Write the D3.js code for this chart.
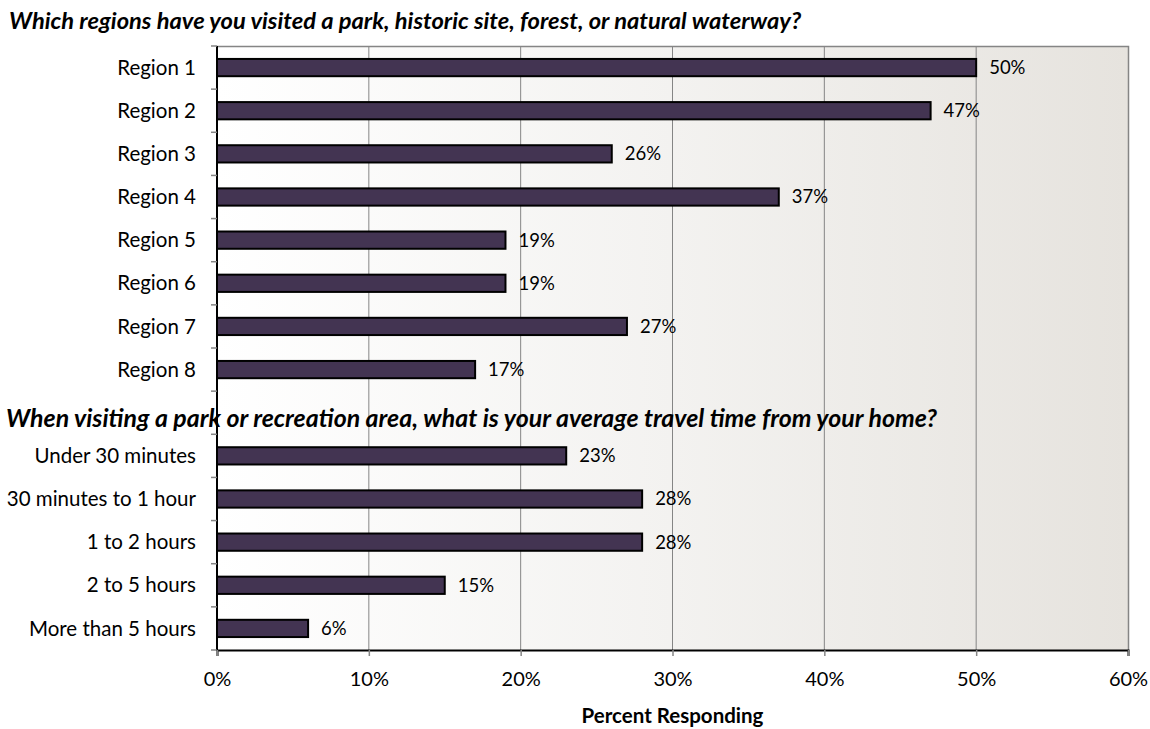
<!DOCTYPE html>
<html>
<head>
<meta charset="utf-8">
<script src="https://cdn.jsdelivr.net/npm/d3@7"></script>
<style>
  html, body { margin: 0; padding: 0; background: #ffffff; }
  svg { display: block; }
  text { font-family: Lato, "Open Sans", sans-serif; fill: #000; }
</style>
</head>
<body>
<svg id="chart" width="1150" height="729"></svg>
<script>
// ---- data ----
const title1 = "Which regions have you visited a park, historic site, forest, or natural waterway?";
const title2 = "When visiting a park or recreation area, what is your average travel time from your home?";
const regionLabels = ["Region 1","Region 2","Region 3","Region 4","Region 5","Region 6","Region 7","Region 8"];
const regionValues = [50, 47, 26, 37, 19, 19, 27, 17];
const travelLabels = ["Under 30 minutes","30 minutes to 1 hour","1 to 2 hours","2 to 5 hours","More than 5 hours"];
const travelValues = [23, 28, 28, 15, 6];
const xTicks = [0, 10, 20, 30, 40, 50, 60];
const xTitle = "Percent Responding";

// ---- layout ----
const svg = d3.select("#chart");
const pL = 217, pR = 1128, pT = 46, pB = 650;

const rows = [];
regionLabels.forEach((l, i) => rows.push({key: "r" + i, label: l, value: regionValues[i]}));
rows.push({key: "gap", label: "", value: null});
travelLabels.forEach((l, i) => rows.push({key: "t" + i, label: l, value: travelValues[i]}));

const x = d3.scaleLinear().domain([0, 60]).range([pL, pR]);
const y = d3.scaleBand().domain(rows.map(d => d.key)).range([pT, pB])
  .paddingInner(0.6).paddingOuter(0.3);
const step = y.step();

// background gradient
const defs = svg.append("defs");
const grad = defs.append("linearGradient").attr("id", "bg").attr("x1", "0").attr("x2", "1").attr("y1", "0").attr("y2", "0");
grad.append("stop").attr("offset", "0").attr("stop-color", "#ffffff");
grad.append("stop").attr("offset", "0.5").attr("stop-color", "#f3f2f0");
grad.append("stop").attr("offset", "1").attr("stop-color", "#e6e3de");
svg.append("rect").attr("x", pL).attr("y", pT).attr("width", pR - pL).attr("height", pB - pT)
  .attr("fill", "url(#bg)");

// gridlines
svg.append("g").selectAll("line").data(xTicks.filter(t => t > 0 && t < 60)).join("line")
  .attr("x1", d => x(d)).attr("x2", d => x(d)).attr("y1", pT).attr("y2", pB)
  .attr("stroke", "#858585").attr("stroke-width", 1);

// plot border (top/right gray)
svg.append("path").attr("d", `M${pL},${pT + 0.5}H${pR + 0.5}V${pB}`)
  .attr("fill", "none").attr("stroke", "#858585").attr("stroke-width", 1.5);

// bars
svg.append("g").selectAll("rect").data(rows.filter(d => d.value != null)).join("rect")
  .attr("x", x(0)).attr("y", d => y(d.key))
  .attr("width", d => x(d.value) - x(0)).attr("height", y.bandwidth())
  .attr("fill", "#433452").attr("stroke", "#000").attr("stroke-width", 2);

// value labels
svg.append("g").selectAll("text").data(rows.filter(d => d.value != null)).join("text")
  .attr("x", d => x(d.value) + 13).attr("y", d => y(d.key) + y.bandwidth() / 2)
  .attr("dy", "0.35em").attr("font-size", 18.5).text(d => d.value + "%");

// y axis (category) with ticks between categories
const yAxisG = svg.append("g");
yAxisG.append("line").attr("x1", pL).attr("x2", pL).attr("y1", pT).attr("y2", pB)
  .attr("stroke", "#000").attr("stroke-width", 2);
const tickYs = d3.range(rows.length + 1).map(i => pT + i * step);
yAxisG.selectAll("line.tk").data(tickYs).join("line").attr("class", "tk")
  .attr("x1", pL - 6).attr("x2", pL).attr("y1", d => d).attr("y2", d => d)
  .attr("stroke", "#858585").attr("stroke-width", 1.5);
yAxisG.selectAll("text").data(rows.filter(d => d.label)).join("text")
  .attr("x", pL - 21).attr("y", d => y(d.key) + y.bandwidth() / 2)
  .attr("dy", "0.35em").attr("text-anchor", "end").attr("font-size", 20.5).text(d => d.label);

// x axis
const xAxis = d3.axisBottom(x).tickValues(xTicks).tickFormat(d => d + "%").tickSize(6).tickPadding(16);
const xg = svg.append("g").attr("transform", `translate(0,${pB})`).call(xAxis);
xg.select(".domain").attr("stroke", "#000").attr("stroke-width", 2);
xg.selectAll(".tick line").attr("stroke", "#858585").attr("stroke-width", 1.5);
xg.selectAll(".tick text").attr("font-size", 20).attr("font-family", "Lato, sans-serif").attr("fill", "#000");

// axis title
svg.append("text").attr("x", (pL + pR) / 2).attr("y", 723).attr("text-anchor", "middle")
  .attr("font-size", 20.5).attr("font-weight", "bold").text(xTitle);

// titles
svg.append("text").attr("x", 9).attr("y", 29).attr("font-size", 23.7).attr("font-weight", "bold")
  .attr("font-style", "italic").text(title1);
svg.append("text").attr("x", 6).attr("y", 427).attr("font-size", 24.9).attr("font-weight", "bold")
  .attr("font-style", "italic").text(title2);
</script>
</body>
</html>
